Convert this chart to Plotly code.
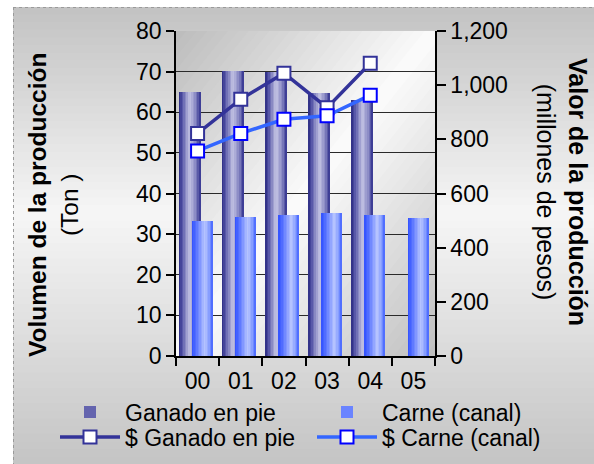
import plotly.graph_objects as go

# ---- data -------------------------------------------------------------
years = ["00", "01", "02", "03", "04", "05"]
ganado_ton = [65.0, 70.2, 70.0, 64.7, 63.0, None]      # Ganado en pie (Ton)
carne_ton = [33.2, 34.2, 34.7, 35.2, 34.7, 34.0]       # Carne (canal) (Ton)
ganado_mdp = [822, 948, 1044, 917, 1081, None]         # $ Ganado en pie (millones de pesos)
carne_mdp = [757, 822, 874, 887, 963, None]            # $ Carne (canal) (millones de pesos)

# ---- geometry / style ---------------------------------------------------
W, H = 594, 464
M_L, M_R, M_T, M_B = 176, 159, 31, 108
PW, PH = W - M_L - M_R, H - M_T - M_B
FONT = "Liberation Sans, Arial, sans-serif"


def px_x(p):
    return (p - M_L) / PW


def px_y(p):
    return (H - M_B - p) / PH


def hex2rgb(h):
    h = h.lstrip("#")
    return tuple(int(h[i:i + 2], 16) for i in (0, 2, 4))


def ramp(stops, t):
    t = min(max(t, 0.0), 1.0)
    for (t0, c0), (t1, c1) in zip(stops[:-1], stops[1:]):
        if t <= t1:
            f = 0 if t1 == t0 else (t - t0) / (t1 - t0)
            a, b = hex2rgb(c0), hex2rgb(c1)
            return "rgb(%d,%d,%d)" % tuple(round(a[i] + (b[i] - a[i]) * f) for i in range(3))
    return "rgb(%d,%d,%d)" % hex2rgb(stops[-1][1])


GANADO_STOPS = [(0, "#2a2a80"), (0.15, "#5050a4"), (0.5, "#c4c4e4"),
                (0.78, "#8686c2"), (1, "#30308e")]
CARNE_STOPS = [(0, "#2f4fff"), (0.2, "#5470ff"), (0.62, "#b8c6ff"),
               (0.85, "#8098ff"), (1, "#4262ff")]

fig = go.Figure()


def shaded_bars(values, name, offset, width, stops, base_color, legend):
    # full bar carrying the legend entry, then thin shading strips on top
    fig.add_trace(go.Bar(x=years, y=values, name=name, offset=offset, width=width,
                         marker=dict(color=base_color, line=dict(width=0)),
                         legend=legend, hoverinfo="x+y+name"))
    n = 14
    step = width / n
    for i in range(n):
        w = step * 1.6 if i < n - 1 else step
        fig.add_trace(go.Bar(x=years, y=values, offset=offset + i * step, width=w,
                             marker=dict(color=ramp(stops, (i + 0.5) / n), line=dict(width=0)),
                             showlegend=False, hoverinfo="skip"))


shaded_bars(ganado_ton, "Ganado en pie", -0.44, 0.51, GANADO_STOPS, "#6464ae", "legend")
shaded_bars(carne_ton, "Carne (canal)", -0.135, 0.485, CARNE_STOPS, "#6a84ff", "legend2")

fig.add_trace(go.Scatter(
    x=years, y=ganado_mdp, name="$ Ganado en pie", yaxis="y2", mode="lines+markers",
    line=dict(color="#333399", width=3.5),
    marker=dict(symbol="square", size=13, color="white", line=dict(color="#333399", width=2)),
    legend="legend3"))
fig.add_trace(go.Scatter(
    x=years, y=carne_mdp, name="$ Carne (canal)", yaxis="y2", mode="lines+markers",
    line=dict(color="#3366ff", width=3.5),
    marker=dict(symbol="square", size=13, color="white", line=dict(color="#0000ff", width=2)),
    legend="legend4"))

# ---- background shading -------------------------------------------------
shapes = []
# outer panel: vertical grey-white-grey shading
BG_STOPS = [(0, "#c2c2c2"), (0.45, "#f6f6f6"), (1, "#c4c4c4")]
top_px, n_bands = 7, 60
band = (H - top_px) / n_bands
for i in range(n_bands):
    y0p = top_px + i * band
    shapes.append(dict(type="rect", xref="paper", yref="paper", layer="below",
                       x0=px_x(13), x1=px_x(W + 2), y0=px_y(y0p), y1=px_y(y0p + band + 1),
                       fillcolor=ramp(BG_STOPS, (i + 0.5) / n_bands), line=dict(width=0)))
# dotted panel border (left and top)
shapes.append(dict(type="line", xref="paper", yref="paper", layer="below",
                   x0=px_x(13.5), x1=px_x(13.5), y0=px_y(7), y1=px_y(H + 2),
                   line=dict(color="#9a9a9a", width=1, dash="dot")))
shapes.append(dict(type="line", xref="paper", yref="paper", layer="below",
                   x0=px_x(13), x1=px_x(W + 2), y0=px_y(7.5), y1=px_y(7.5),
                   line=dict(color="#9a9a9a", width=1, dash="dot")))

# plot area: diagonal shading, grey corners top-left / bottom-right
PLOT_STOPS = [(0, "#bcbcbc"), (0.5, "#fbfbfb"), (1, "#bfbfbf")]
levels = 50
for k in range(levels, 0, -1):
    c = k / levels
    d = 2 * c  # region u + v <= d, u to the right, v downward
    if d <= 1:
        pts = [(0, 0), (d, 0), (0, d)]
    else:
        pts = [(0, 0), (1, 0), (1, d - 1), (d - 1, 1), (0, 1)]
    path = "M " + " L ".join("%.5f,%.5f" % (u, 1 - v) for u, v in pts) + " Z"
    shapes.append(dict(type="path", xref="paper", yref="paper", layer="below", path=path,
                       fillcolor=ramp(PLOT_STOPS, c - 0.5 / levels), line=dict(width=0)))

# ---- axis titles --------------------------------------------------------
annotations = [
    dict(text="<b>Volumen de la producción</b><br>(Ton )", textangle=-90,
         xref="paper", yref="paper", x=px_x(53), y=px_y(205), xanchor="center", yanchor="middle",
         showarrow=False, font=dict(family=FONT, size=24.5, color="black")),
    dict(text="<b>Valor de la producción</b><br>(millones de pesos)", textangle=90,
         xref="paper", yref="paper", x=px_x(562), y=px_y(192), xanchor="center", yanchor="middle",
         showarrow=False, font=dict(family=FONT, size=25, color="black")),
]

axis_common = dict(showline=True, linecolor="black", linewidth=1.5, ticks="outside",
                   tickcolor="black", tickwidth=1.5, tickfont=dict(family=FONT, size=23, color="black"))

# one legend box per entry: two columns, two rows
legend_common = dict(xanchor="left", yanchor="middle", orientation="v",
                     bgcolor="rgba(0,0,0,0)", borderwidth=0, itemwidth=60, tracegroupgap=0,
                     font=dict(family=FONT, size=23, color="black"))
COL1, COL2 = 55, 312
ROW1, ROW2 = 412, 437

fig.update_layout(
    width=W, height=H, autosize=False,
    margin=dict(l=M_L, r=M_R, t=M_T, b=M_B, pad=0, autoexpand=False),
    paper_bgcolor="white", plot_bgcolor="rgba(0,0,0,0)",
    barmode="overlay", bargap=0,
    font=dict(family=FONT, color="black"),
    xaxis=dict(type="category", categoryorder="array", categoryarray=years,
               range=[-0.5, 5.5], tickson="boundaries", ticklen=8, showgrid=False,
               zeroline=False, ticklabelstandoff=4, **axis_common),
    yaxis=dict(range=[0, 80], dtick=10, ticklen=8, showgrid=True, gridcolor="#2a2a2a",
               gridwidth=1.2, zeroline=False, **axis_common),
    yaxis2=dict(range=[0, 1200], dtick=200, tickformat=",d", overlaying="y", side="right",
                ticklen=9, showgrid=False, zeroline=False, **axis_common),
    legend=dict(x=px_x(COL1), y=px_y(ROW1), **legend_common),
    legend2=dict(x=px_x(COL2), y=px_y(ROW1), **legend_common),
    legend3=dict(x=px_x(COL1), y=px_y(ROW2), **legend_common),
    legend4=dict(x=px_x(COL2), y=px_y(ROW2), **legend_common),
    shapes=shapes,
    annotations=annotations,
)

fig.write_html("out.html")
